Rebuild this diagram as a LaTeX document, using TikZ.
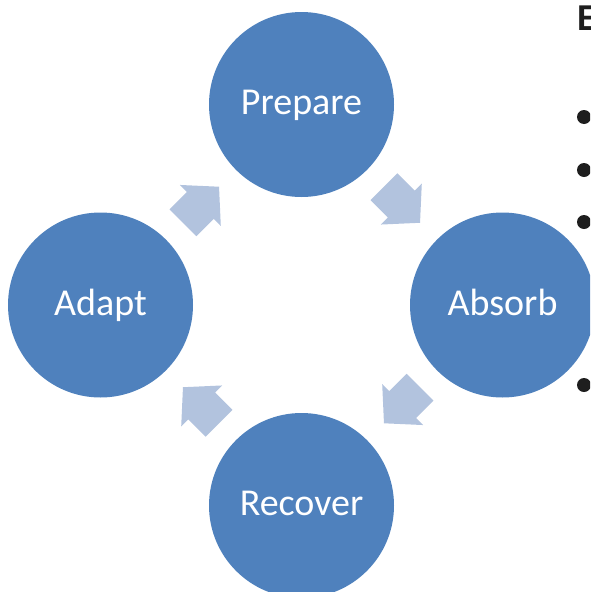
\documentclass[tikz,border=0pt]{standalone}
\usepackage{fontspec}
\setmainfont{Carlito}
\usetikzlibrary{calc}
\definecolor{cycleblue}{RGB}{79,129,189}
\definecolor{arrowblue}{RGB}{178,195,222}
\definecolor{textdark}{RGB}{30,30,30}
\tikzset{
  stage/.style={circle, fill=cycleblue, minimum size=185pt, inner sep=0pt,
    text=white, font=\fontsize{38}{40}\selectfont, text height=20pt, text depth=0pt},
  blockarrow/.style={fill=arrowblue},
}

\begin{document}
\begin{tikzpicture}[x=1pt,y=-1pt]
\clip (0,0) rectangle (590,592);
\node[stage] (prepare) at (301.5,104.5) {Prepare};
\node[stage] (absorb) at (502.5,305) {Absorb};
\node[stage] (recover) at (301.5,505.5) {Recover};
\node[stage] (adapt) at (100.5,305) {Adapt};
% block arrows, clockwise round the cycle
\begin{scope}[shift={($(prepare)!0.5!(absorb)$)}, rotate=-45]
\fill[blockarrow] (-25.5,-19) -- (-1,-19) -- (-1,-29) -- (25.5,0) -- (-1,29) -- (-1,19) -- (-25.5,19) -- cycle;
\end{scope}
\begin{scope}[shift={($(absorb)!0.5!(recover)$)}, rotate=-135]
\fill[blockarrow] (-25.5,-19) -- (-1,-19) -- (-1,-29) -- (25.5,0) -- (-1,29) -- (-1,19) -- (-25.5,19) -- cycle;
\end{scope}
\begin{scope}[shift={($(recover)!0.5!(adapt)$)}, rotate=135]
\fill[blockarrow] (-25.5,-19) -- (-1,-19) -- (-1,-29) -- (25.5,0) -- (-1,29) -- (-1,19) -- (-25.5,19) -- cycle;
\end{scope}
\begin{scope}[shift={($(adapt)!0.5!(prepare)$)}, rotate=45]
\fill[blockarrow] (-25.5,-19) -- (-1,-19) -- (-1,-29) -- (25.5,0) -- (-1,29) -- (-1,19) -- (-25.5,19) -- cycle;
\end{scope}
% heading and bullets on the right
\node[anchor=base west, inner sep=0pt, text=textdark, font=\bfseries\fontsize{38}{42}\selectfont] (heading) at (577,30) {E};
\fill[textdark] (584,117) circle (7pt);
\fill[textdark] (584,170) circle (7pt);
\fill[textdark] (584,222) circle (7pt);
\fill[textdark] (584,385) circle (7pt);
\end{tikzpicture}
\end{document}
